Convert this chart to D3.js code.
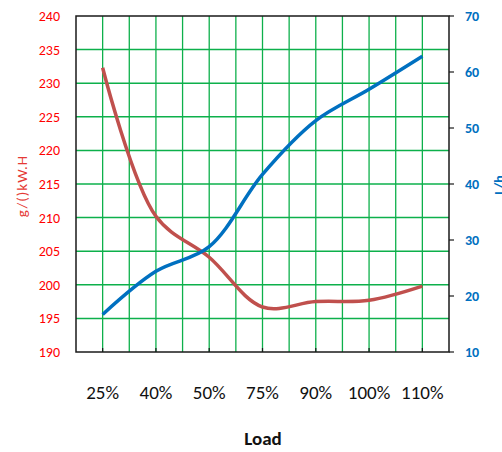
<!DOCTYPE html>
<head>
  <meta charset="utf-8">
  <script src="https://d3js.org/d3.v7.min.js"></script>
  <style>
  body { margin: 0; background: #fff; }
  text { font-family: Carlito, "Liberation Sans Narrow", "DejaVu Sans Condensed", "Open Sans", sans-serif; }
  </style>
</head>
<body>
<script>
var WIDTH = 502, HEIGHT = 452;

// data
var loads = ["25%", "40%", "50%", "75%", "90%", "100%", "110%"];
var fuelRate = [232.3, 210.2, 204.1, 196.7, 197.5, 197.7, 199.8];   // g/(kW.H), left axis
var fuelFlow = [16.7, 24.4, 28.8, 41.7, 51.3, 56.9, 62.8];          // L/h, right axis
var leftTicks = [190, 195, 200, 205, 210, 215, 220, 225, 230, 235, 240];
var rightTicks = [10, 20, 30, 40, 50, 60, 70];

var m = {left: 76, right: 449, top: 16, bottom: 352};

var svg = d3.select("body").append("svg")
            .attr("width", WIDTH)
            .attr("height", HEIGHT);

var x = d3.scaleBand().domain(loads).range([m.left, m.right]).padding(0);
var yL = d3.scaleLinear().domain([190, 240]).range([m.bottom, m.top]);
var yR = d3.scaleLinear().domain([10, 70]).range([m.bottom, m.top]);

var green = "#0DB04B";

// horizontal grid
svg.append("g").selectAll("line")
   .data(leftTicks.slice(1, -1))
   .enter().append("line")
   .attr("x1", m.left).attr("x2", m.right)
   .attr("y1", function(d){ return yL(d); })
   .attr("y2", function(d){ return yL(d); })
   .attr("stroke", green).attr("stroke-width", 1.5);

// vertical grid: category centres and boundaries
var vx = [];
loads.forEach(function(d, i){
  vx.push(x(d) + x.bandwidth() / 2);
  if (i > 0) vx.push(x(d));
});
svg.append("g").selectAll("line")
   .data(vx)
   .enter().append("line")
   .attr("x1", function(d){ return d; }).attr("x2", function(d){ return d; })
   .attr("y1", m.top).attr("y2", m.bottom)
   .attr("stroke", green).attr("stroke-width", 1.3);

// frame
svg.append("rect")
   .attr("x", m.left).attr("y", m.top)
   .attr("width", m.right - m.left).attr("height", m.bottom - m.top)
   .attr("fill", "none").attr("stroke", "#1a1a1a").attr("stroke-width", 1.5);

// x ticks (inside)
svg.append("g").selectAll("line")
   .data(loads)
   .enter().append("line")
   .attr("x1", function(d){ return x(d) + x.bandwidth() / 2; })
   .attr("x2", function(d){ return x(d) + x.bandwidth() / 2; })
   .attr("y1", m.bottom).attr("y2", m.bottom - 4)
   .attr("stroke", "#1a1a1a").attr("stroke-width", 1.2);

// right axis ticks
svg.append("g").selectAll("line")
   .data(rightTicks)
   .enter().append("line")
   .attr("x1", m.right).attr("x2", m.right + 5)
   .attr("y1", function(d){ return yR(d); })
   .attr("y2", function(d){ return yR(d); })
   .attr("stroke", "#1a1a1a").attr("stroke-width", 1.2);

// left labels
svg.append("g").selectAll("text")
   .data(leftTicks)
   .enter().append("text")
   .attr("x", 60)
   .attr("y", function(d){ return yL(d) + 5; })
   .attr("text-anchor", "end")
   .attr("fill", "#FF0000")
   .style("font-size", "14px")
   .text(function(d){ return d; });

// right labels
svg.append("g").selectAll("text")
   .data(rightTicks)
   .enter().append("text")
   .attr("x", 465)
   .attr("y", function(d){ return yR(d) + 5; })
   .attr("fill", "#0070C0")
   .style("font-size", "14px")
   .style("font-weight", "bold")
   .text(function(d){ return d; });

// x labels
svg.append("g").selectAll("text")
   .data(loads)
   .enter().append("text")
   .attr("x", function(d){ return x(d) + x.bandwidth() / 2; })
   .attr("y", 399)
   .attr("text-anchor", "middle")
   .attr("fill", "#111")
   .style("font-size", "19px")
   .text(function(d){ return d; });

// axis titles
svg.append("text")
   .attr("transform", "translate(27,186) rotate(-90)")
   .attr("text-anchor", "middle")
   .attr("fill", "#E53935")
   .style("font-size", "15px")
   .style("letter-spacing", "1px")
   .text("g/()kW.H");

svg.append("text")
   .attr("transform", "translate(504,185) rotate(-90)")
   .attr("text-anchor", "middle")
   .attr("fill", "#0070C0")
   .style("font-size", "14px")
   .style("font-weight", "bold")
   .text("L/h");

svg.append("text")
   .attr("x", 263).attr("y", 445)
   .attr("text-anchor", "middle")
   .attr("fill", "#111")
   .style("font-size", "19px")
   .style("font-weight", "bold")
   .text("Load");

// lines
var lineL = d3.line()
  .x(function(d, i){ return x(loads[i]) + x.bandwidth() / 2; })
  .y(function(d){ return yL(d); })
  .curve(d3.curveCatmullRom.alpha(0.5));
var lineR = d3.line()
  .x(function(d, i){ return x(loads[i]) + x.bandwidth() / 2; })
  .y(function(d){ return yR(d); })
  .curve(d3.curveCatmullRom.alpha(0.5));

svg.append("path")
   .datum(fuelRate)
   .attr("d", lineL)
   .attr("fill", "none")
   .attr("stroke", "#C0504D")
   .attr("stroke-width", 3.5);

svg.append("path")
   .datum(fuelFlow)
   .attr("d", lineR)
   .attr("fill", "none")
   .attr("stroke", "#0070C0")
   .attr("stroke-width", 3.5);
</script>
</body>
